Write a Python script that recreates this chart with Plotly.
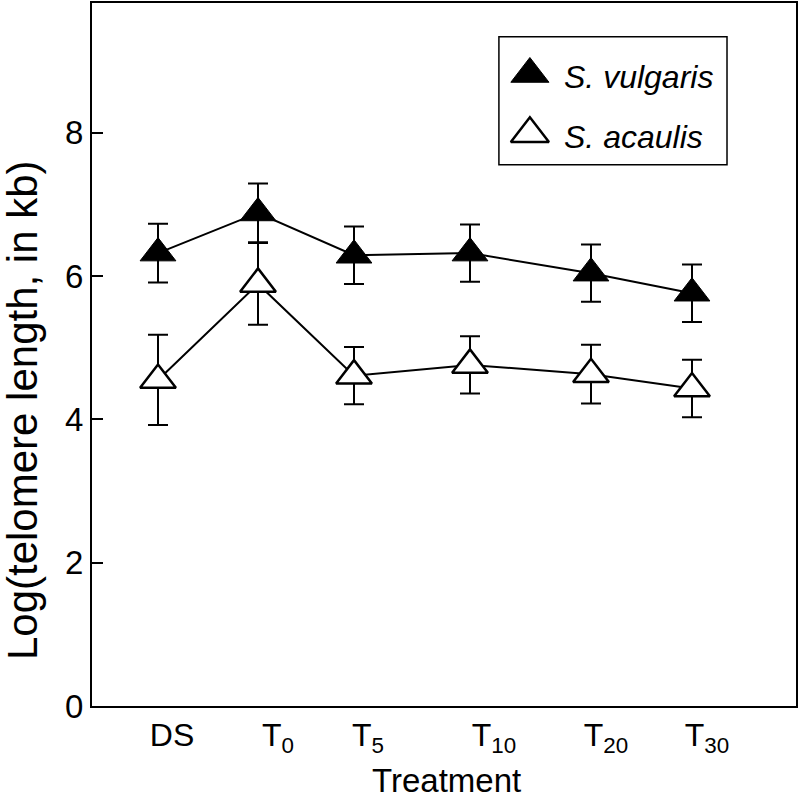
import plotly.graph_objects as go

# Treatments (x positions on a numeric axis, label positions for tick text)
treatments = ["DS", "T<sub>0</sub>", "T<sub>5</sub>", "T<sub>10</sub>", "T<sub>20</sub>", "T<sub>30</sub>"]
x_pos = [0.66, 1.66, 2.62, 3.78, 4.99, 6.00]
label_pos = [0.80, 1.86, 2.76, 4.02, 5.14, 6.15]

# Series values (log telomere length, kb) and error bars
vulgaris = [6.32, 6.88, 6.29, 6.32, 6.04, 5.76]
vulgaris_err = [0.41, 0.41, 0.40, 0.40, 0.40, 0.40]
acaulis = [4.55, 5.89, 4.61, 4.76, 4.63, 4.43]
acaulis_err = [0.63, 0.57, 0.40, 0.40, 0.41, 0.40]

y_ticks = [0, 2, 4, 6, 8]

FONT = "Liberation Sans, Arial, Helvetica, sans-serif"
FS = 32

fig = go.Figure()

fig.add_trace(go.Scatter(
    x=x_pos, y=acaulis, mode="lines+markers", name="S. acaulis",
    line=dict(color="black", width=2),
    marker=dict(symbol="triangle-up", size=31, color="white",
                line=dict(color="black", width=2.5)),
    error_y=dict(type="data", array=acaulis_err, visible=True,
                 color="black", thickness=2, width=10),
    showlegend=False, cliponaxis=False,
))
fig.add_trace(go.Scatter(
    x=x_pos, y=vulgaris, mode="lines+markers", name="S. vulgaris",
    line=dict(color="black", width=2),
    marker=dict(symbol="triangle-up", size=31, color="black",
                line=dict(color="black", width=1)),
    error_y=dict(type="data", array=vulgaris_err, visible=True,
                 color="black", thickness=2, width=10),
    showlegend=False, cliponaxis=False,
))

# Manual legend symbols on an overlay axis in [0,1]
legend_names = ["<i>S. vulgaris</i>", "<i>S. acaulis</i>"]
legend_y = [0.899, 0.814]
legend_fill = ["black", "white"]
for nm, ly, fc in zip(legend_names, legend_y, legend_fill):
    fig.add_trace(go.Scatter(
        x=[0.622], y=[ly], mode="markers", xaxis="x2", yaxis="y2",
        marker=dict(symbol="triangle-up", size=33, color=fc,
                    line=dict(color="black", width=2.5 if fc == "white" else 1)),
        showlegend=False, hoverinfo="skip", cliponaxis=False,
    ))
    fig.add_annotation(x=0.668, y=ly - 0.004, xref="paper", yref="paper",
                       text=nm, showarrow=False, xanchor="left", yanchor="middle",
                       font=dict(family=FONT, size=FS, color="black"))

fig.add_shape(type="rect", xref="paper", yref="paper",
              x0=0.578, x1=0.902, y0=0.770, y1=0.952,
              line=dict(color="black", width=1.5), fillcolor="rgba(0,0,0,0)")

# Axis titles as annotations
fig.add_annotation(x=-0.0994, y=0.421, xref="paper", yref="paper",
                   text="Log(telomere length, in kb)", textangle=-90,
                   showarrow=False, xanchor="center", yanchor="middle",
                   font=dict(family=FONT, size=42, color="black"))
fig.add_annotation(x=0.503, y=-0.106, xref="paper", yref="paper",
                   text="Treatment", showarrow=False,
                   xanchor="center", yanchor="middle",
                   font=dict(family=FONT, size=33, color="black"))

fig.update_layout(
    width=799, height=800,
    margin=dict(l=92, r=3, t=1, b=94),
    paper_bgcolor="white", plot_bgcolor="white",
    font=dict(family=FONT, size=FS, color="black"),
    xaxis=dict(range=[0, 7.04], tickvals=label_pos, ticktext=treatments,
               ticks="", showgrid=False, zeroline=False,
               showline=True, linecolor="black", linewidth=2, mirror=True,
               tickfont=dict(family=FONT, size=FS, color="black")),
    yaxis=dict(range=[0, 9.81], tickvals=y_ticks,
               ticks="inside", ticklen=11, tickwidth=1.5, tickcolor="black",
               showgrid=False, zeroline=False,
               showline=True, linecolor="black", linewidth=2, mirror=True,
               tickfont=dict(family=FONT, size=33, color="black")),
    xaxis2=dict(range=[0, 1], overlaying="x", visible=False),
    yaxis2=dict(range=[0, 1], overlaying="y", visible=False),
    showlegend=False,
)

fig.write_html("out.html", config={"displayModeBar": False},
               post_script="document.body.style.margin='0px';document.body.style.overflow='hidden';")
